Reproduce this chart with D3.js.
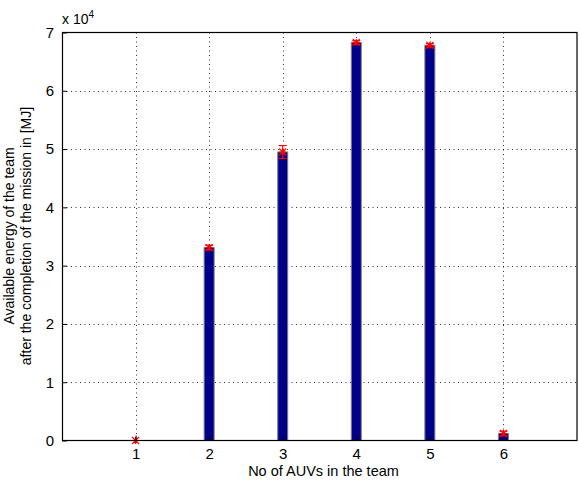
<!DOCTYPE html>
<html><head><meta charset="utf-8">
<script src="https://cdn.jsdelivr.net/npm/d3@7"></script>
<style>body{margin:0;background:#fff}svg{display:block}text{font-family:"Liberation Sans",Arial,sans-serif;fill:#000}</style>
</head><body><div id="c"></div>
<script>
const teamSizes = [1, 2, 3, 4, 5, 6];
const energyMean = [0, 33100, 49500, 68300, 67800, 1200];
const energyErr = [0, 400, 1100, 300, 300, 400];
const xTicks = [1, 2, 3, 4, 5, 6];
const yTicks = [0, 10000, 20000, 30000, 40000, 50000, 60000, 70000];
const yTickLabels = ["0", "1", "2", "3", "4", "5", "6", "7"];

const W = 579, H = 486;
const m = {l: 62, r: 2, t: 32.5, b: 45.5};
const svg = d3.select("#c").append("svg").attr("width", W).attr("height", H);
const x = d3.scaleLinear().domain([0, 7]).range([m.l, W - m.r]);
const y = d3.scaleLinear().domain([0, 70000]).range([H - m.b, m.t]);

// grid
const g = svg.append("g");
g.selectAll(".gy").data(yTicks.slice(1, -1)).join("line")
  .attr("x1", m.l).attr("x2", W - m.r)
  .attr("y1", d => Math.round(y(d)) + 0.5).attr("y2", d => Math.round(y(d)) + 0.5)
  .attr("stroke", "#000").attr("stroke-width", 1).attr("stroke-dasharray", "1,3.5").attr("opacity", 0.8);
g.selectAll(".gx").data(xTicks).join("line")
  .attr("y1", m.t).attr("y2", H - m.b)
  .attr("x1", d => Math.round(x(d)) + 0.5).attr("x2", d => Math.round(x(d)) + 0.5)
  .attr("stroke", "#000").attr("stroke-width", 1).attr("stroke-dasharray", "1,3.5").attr("opacity", 0.8);

// bars
const bw = 10;
svg.selectAll(".bar").data(teamSizes).join("rect")
  .attr("x", (d) => x(d) - bw / 2)
  .attr("width", bw)
  .attr("y", (d, i) => y(energyMean[i]))
  .attr("height", (d, i) => y(0) - y(energyMean[i]))
  .attr("fill", "#00008b").attr("stroke", "#7f7f7f").attr("stroke-width", 1);

// error bars
const eg = svg.append("g").attr("stroke", "#ff0000").attr("stroke-width", 1.2).attr("fill", "none");
teamSizes.forEach((d, i) => {
  const cx = x(d), lo = y(energyMean[i] - energyErr[i]), hi = y(energyMean[i] + energyErr[i]), my = y(energyMean[i]);
  if (energyErr[i] > 0) {
    eg.append("line").attr("x1", cx).attr("x2", cx).attr("y1", lo).attr("y2", hi);
    eg.append("line").attr("x1", cx - 4).attr("x2", cx + 4).attr("y1", lo).attr("y2", lo);
    eg.append("line").attr("x1", cx - 4).attr("x2", cx + 4).attr("y1", hi).attr("y2", hi);
  }
  const s = 3.5;
  eg.append("path").attr("d", `M${cx - s},${my - s}L${cx + s},${my + s}M${cx - s},${my + s}L${cx + s},${my - s}M${cx - s},${my}L${cx + s},${my}M${cx},${my - s}L${cx},${my + s}`);
});

// frame
svg.append("rect").attr("x", m.l + 0.5).attr("y", m.t).attr("width", W - m.r - m.l - 0.5).attr("height", H - m.b - m.t)
  .attr("fill", "none").attr("stroke", "#000").attr("stroke-width", 1.2);

// axes
const xa = svg.append("g").attr("transform", `translate(0,${H - m.b})`)
  .call(d3.axisBottom(x).tickValues(xTicks).tickSize(-5).tickPadding(8).tickFormat(d3.format("d")));
const ya = svg.append("g").attr("transform", `translate(${m.l},0)`)
  .call(d3.axisLeft(y).tickValues(yTicks).tickSize(-5).tickPadding(8).tickFormat((d, i) => yTickLabels[i]));
[xa, ya].forEach(a => {
  a.select(".domain").remove();
  a.attr("font-size", 15).attr("font-family", "Liberation Sans, Arial, sans-serif");
  a.selectAll(".tick line").attr("stroke", "#000");
  a.selectAll("text").style("font-size", "15px");
});

// exponent
const ex = svg.append("text").attr("x", 62).attr("y", 24).style("font-size", "14px");
ex.append("tspan").text("x 10");
ex.append("tspan").attr("dy", -6).style("font-size", "10px").text("4");

// labels
svg.append("text").attr("x", (m.l + W - m.r) / 2 + 4).attr("y", 476).attr("text-anchor", "middle").style("font-size", "14.5px")
  .text("No of AUVs in the team");
const yl = svg.append("text").attr("transform", `translate(0,236) rotate(-90)`).attr("text-anchor", "middle").style("font-size", "14px");
yl.append("tspan").attr("x", 0).attr("y", 14).text("Available energy of the team");
yl.append("tspan").attr("x", 0).attr("y", 31).text("after the completion of the mission in [MJ]");
</script></body></html>
